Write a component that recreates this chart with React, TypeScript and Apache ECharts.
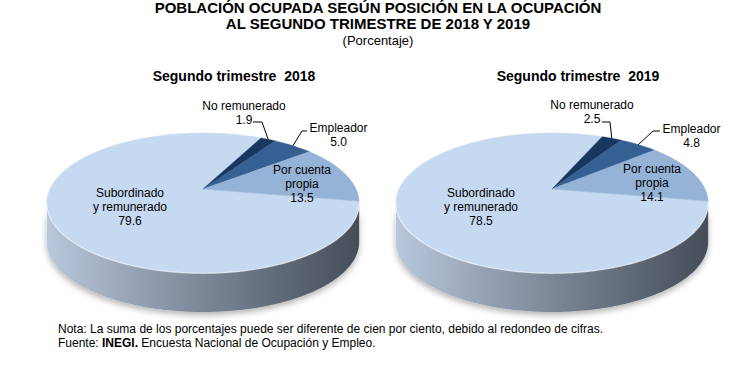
import React, { useEffect, useRef } from 'react';
import * as echarts from 'echarts';

// ---- data ----
const sliceNames = ['Subordinado\ny remunerado', 'No remunerado', 'Empleador', 'Por cuenta\npropia'];
const values2018 = [79.6, 1.9, 5.0, 13.5];
const values2019 = [78.5, 2.5, 4.8, 14.1];
const pieTitles = ['Segundo trimestre  2018', 'Segundo trimestre  2019'];
const mainTitle1 = 'POBLACIÓN OCUPADA SEGÚN POSICIÓN EN LA OCUPACIÓN';
const mainTitle2 = 'AL SEGUNDO TRIMESTRE DE 2018 Y 2019';
const subTitle = '(Porcentaje)';
const noteText = 'Nota: La suma de los porcentajes puede ser diferente de cien por ciento, debido al redondeo de cifras.';
const sourceText = 'Fuente: {b|INEGI.} Encuesta Nacional de Ocupación y Empleo.';

// ---- styles / layout ----
const sliceColors = ['#c5d9f1', '#17375e', '#376092', '#95b3d7'];
const sideStops = [
  ['#b9c8db', '#8d9aab', '#6a7584', '#454d57'],
  ['#22466f', '#1a3658', '#132944', '#0c1c30'],
  ['#4d77aa', '#3c6290', '#2e4e75', '#1f3a5c'],
  ['#a9c1de', '#8aa3c2', '#6f88a7', '#56708f'],
];
const FONT = '"Liberation Sans", Arial, Helvetica, sans-serif';
const START_ANGLE = 10; // deg, clockwise from 3 o'clock
const K = 0.2; // perspective factor
const RX = 153;
const RY = 67.2;
const DEPTH = 39;
const centers: number[][] = [[203, 189], [552, 189]];
const titleX = [234, 578];
const labelPos: number[][][] = [
  [[-73, 18], [41, -76.5], [135.5, -54], [99, -5.5]],
  [[-71, 18], [40, -77], [139.5, -53.5], [100, -6.5]],
];
const leaderElbows: (number[][] | null)[][] = [
  [null, [[50, -67], [59, -67]], [[104, -58], [99, -58]], null],
  [null, [[50, -67], [58, -67]], [[108, -58], [101, -58]], null],
];
const VIS0 = (Math.asin(K) * 180) / Math.PI;
const VIS1 = 180 - VIS0;

function pt(cx: number, cy: number, deg: number, dy = 0): number[] {
  const t = (deg * Math.PI) / 180;
  const X = Math.cos(t);
  const Y = Math.sin(t);
  const d = 1 - K * Y;
  return [cx + (RX * X) / d, cy + (RY * Y) / d + dy];
}
function arc(cx: number, cy: number, a0: number, a1: number, dy = 0): number[][] {
  const n = Math.max(2, Math.ceil(Math.abs(a1 - a0)) + 1);
  const out: number[][] = [];
  for (let j = 0; j < n; j++) out.push(pt(cx, cy, a0 + ((a1 - a0) * j) / (n - 1), dy));
  return out;
}
function range(vals: number[], i: number): number[] {
  const total = vals.reduce((a, b) => a + b, 0);
  let acc = 0;
  for (let j = 0; j < i; j++) acc += vals[j];
  const a0 = START_ANGLE + (acc / total) * 360;
  return [a0, a0 + (vals[i] / total) * 360];
}

function makeSeries(p: number, vals: number[]): any[] {
  const [cx, cy] = centers[p];
  const sides = {
    type: 'custom',
    coordinateSystem: 'none',
    z: 1,
    silent: true,
    data: vals,
    renderItem: (params: any) => {
      const i = params.dataIndex;
      const [a0, a1] = range(vals, i);
      const children: any[] = [];
      for (const off of [0, 360]) {
        const s0 = Math.max(a0, VIS0 + off);
        const s1 = Math.min(a1, VIS1 + off);
        if (s1 > s0) {
          const top = arc(cx, cy, s0, s1);
          const bot = arc(cx, cy, s0, s1, DEPTH).reverse();
          const st = sideStops[i];
          children.push({
            type: 'polygon',
            shape: { points: top.concat(bot) },
            style: {
              fill: {
                type: 'linear',
                x: cx - RX * 1.03,
                y: 0,
                x2: cx + RX * 1.03,
                y2: 0,
                global: true,
                colorStops: [
                  { offset: 0, color: st[0] },
                  { offset: 0.35, color: st[1] },
                  { offset: 0.65, color: st[2] },
                  { offset: 1, color: st[3] },
                ],
              },
              shadowBlur: 6,
              shadowOffsetY: 3,
              shadowColor: 'rgba(0,0,0,0.3)',
            },
          });
        }
      }
      return { type: 'group', children };
    },
  };
  const tops = {
    type: 'custom',
    coordinateSystem: 'none',
    z: 2,
    silent: true,
    data: vals,
    renderItem: (params: any, api: any) => {
      const i = params.dataIndex;
      const v = api.value(0);
      const [a0, a1] = range(vals, i);
      const children: any[] = [];
      children.push({
        type: 'polygon',
        shape: { points: [[cx, cy]].concat(arc(cx, cy, a0, a1)) },
        style: { fill: sliceColors[i], stroke: sliceColors[i], lineWidth: 0.5 },
      });
      const [lx, ly] = labelPos[p][i];
      children.push({
        type: 'text',
        x: cx + lx,
        y: cy + ly,
        z2: 100,
        style: {
          text: sliceNames[i] + '\n' + Number(v).toFixed(1),
          fill: '#000',
          font: '12px ' + FONT,
          fontSize: 12,
          fontFamily: FONT,
          lineHeight: 14,
          align: 'center',
          textAlign: 'center',
          verticalAlign: 'middle',
          textVerticalAlign: 'middle',
        },
      });
      const elb = leaderElbows[p][i];
      if (elb) {
        const rim = pt(cx, cy, (a0 + a1) / 2);
        children.push({
          type: 'polyline',
          z2: 90,
          shape: { points: [[cx + elb[0][0], cy + elb[0][1]], [cx + elb[1][0], cy + elb[1][1]], rim] },
          style: { stroke: '#000', lineWidth: 1, fill: null },
        });
      }
      if (i === vals.length - 1) {
        children.push({
          type: 'polyline',
          z2: 50,
          shape: { points: arc(cx, cy, VIS0, VIS1, 0.3) },
          style: { stroke: 'rgba(255,255,255,0.6)', lineWidth: 1.2, fill: null },
        });
      }
      return { type: 'group', children };
    },
  };
  return [sides, tops];
}

function txt(x: number, y: number, text: string, font: string, align = 'center'): any {
  return {
    type: 'text',
    x,
    y,
    style: { text, font, fill: '#000', align, textAlign: align, verticalAlign: 'middle', textVerticalAlign: 'middle' },
  };
}

export default function App() {
  const ref = useRef<HTMLDivElement>(null);
  useEffect(() => {
    document.body.style.margin = '0';
    const chart = echarts.init(ref.current!, null, { renderer: 'svg' });
    chart.setOption({
      animation: false,
      backgroundColor: '#ffffff',
      graphic: [
        txt(378, 7, mainTitle1, 'bold 15px ' + FONT),
        txt(378, 23, mainTitle2, 'bold 15px ' + FONT),
        txt(378, 40, subTitle, '13px ' + FONT),
        txt(titleX[0], 76, pieTitles[0], 'bold 14px ' + FONT),
        txt(titleX[1], 76, pieTitles[1], 'bold 14px ' + FONT),
        txt(58, 329, noteText, '12px ' + FONT, 'left'),
        {
          type: 'text',
          x: 58,
          y: 343,
          style: {
            text: sourceText,
            fontSize: 12,
            fontFamily: FONT,
            fill: '#000',
            align: 'left',
            textAlign: 'left',
            verticalAlign: 'middle',
            textVerticalAlign: 'middle',
            rich: { b: { fontWeight: 'bold', fontSize: 12, fontFamily: FONT, fill: '#000' } },
          },
        },
      ],
      series: [...makeSeries(0, values2018), ...makeSeries(1, values2019)],
    });
    return () => chart.dispose();
  }, []);
  return <div ref={ref} style={{ width: 756, height: 366 }} />;
}
